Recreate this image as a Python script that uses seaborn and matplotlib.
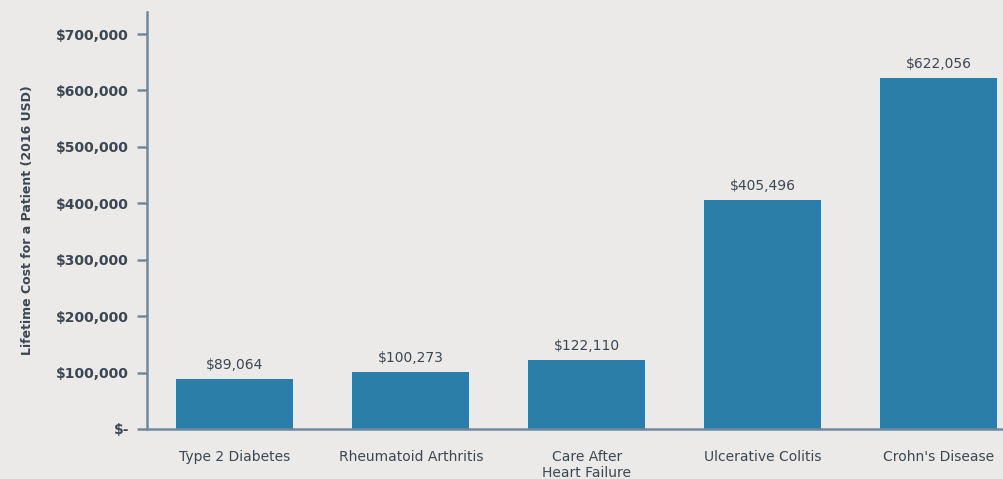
import matplotlib
matplotlib.use("Agg")
import matplotlib.pyplot as plt
import seaborn as sns
import pandas as pd
from matplotlib.ticker import FuncFormatter

categories = ["Type 2 Diabetes", "Rheumatoid Arthritis", "Care After\nHeart Failure",
              "Ulcerative Colitis", "Crohn's Disease"]
costs = [89064, 100273, 122110, 405496, 622056]
yticks = [0, 100000, 200000, 300000, 400000, 500000, 600000, 700000]

BG = "#ebeae8"
BAR = "#2a7ea8"
TXT = "#3b4754"
SPINE = "#6f8aa0"

sns.set_theme(style="white")
plt.rcParams['font.family'] = ['DejaVu Sans']

fig = plt.figure(figsize=(10.04, 4.79), dpi=100, facecolor=BG)
ax = fig.add_axes([147/1004, 50/479, (1004-147)/1004, (429-12)/479])
ax.set_facecolor(BG)

df = pd.DataFrame({"cat": categories, "cost": costs})
sns.barplot(data=df, x="cat", y="cost", color=BAR, saturation=1, width=0.665,
            edgecolor="none", linewidth=0, ax=ax)

ax.set_xlim(-0.5, 4.37)
ax.set_ylim(0, 739000)
ax.set_yticks(yticks)
ax.yaxis.set_major_formatter(FuncFormatter(lambda v, p: "$-" if v == 0 else f"${v:,.0f}"))

for s in ["top", "right"]:
    ax.spines[s].set_visible(False)
for s in ["left", "bottom"]:
    ax.spines[s].set_color(SPINE)
    ax.spines[s].set_linewidth(1.8)

ax.tick_params(axis="y", left=True, length=7, width=1.8, color=SPINE, labelsize=10,
               labelcolor=TXT, pad=6)
ax.tick_params(axis="x", bottom=False, length=0, labelsize=10, labelcolor=TXT, pad=15)
for lbl in ax.get_yticklabels():
    lbl.set_fontweight("bold")

ax.set_xlabel("")
ax.set_ylabel("Lifetime Cost for a Patient (2016 USD)", fontsize=9, fontweight="bold",
              color=TXT, labelpad=16)

ax.bar_label(ax.containers[0], labels=[f"${v:,.0f}" for v in costs], padding=5,
             fontsize=10, color=TXT)

fig.savefig("out.png", dpi=100, facecolor=BG)
